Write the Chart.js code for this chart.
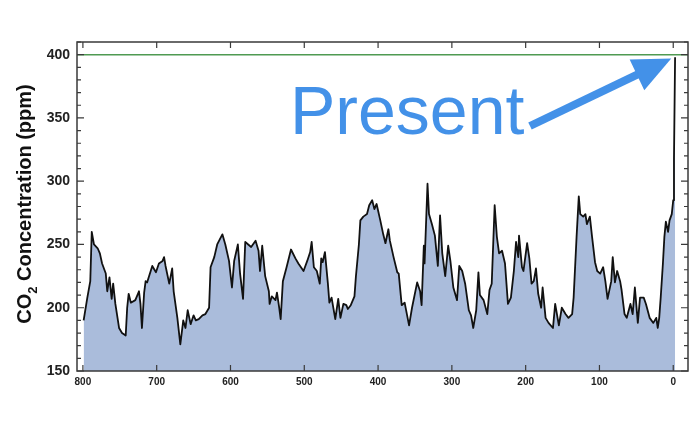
<!DOCTYPE html>
<html>
<head>
<meta charset="utf-8">
<script src="https://cdn.jsdelivr.net/npm/chart.js@4"></script>
<style>
  html, body { margin: 0; padding: 0; background: #fff; }
  #wrap { width: 700px; height: 427px; position: relative; }
</style>
</head>
<body>
<div id="wrap"><canvas id="co2Chart"></canvas></div>
<script>
// ice core CO2, thousands of years before present
const ageKyr = [
  799, 794, 790, 788, 785, 780, 777, 774, 769, 767, 764, 761, 759, 756, 751, 747, 742, 740, 738, 735,
  729, 724, 722, 720, 717, 715, 713, 706, 701, 697, 692, 690, 688, 683, 679, 677, 672, 668, 664, 661,
  658, 654, 650, 647, 643, 638, 634, 629, 627, 622, 618, 611, 607, 602, 598, 595, 590, 587, 583, 580,
  576, 572, 566, 562, 560, 557, 553, 548, 547, 544, 539, 537, 534, 532, 529, 524, 518, 512, 508, 501,
  496, 492, 490, 487, 483, 479, 477, 475, 472, 468, 466, 463, 458, 454, 451, 447, 443, 441, 437, 432,
  430, 426, 424, 420, 415, 412, 408, 405, 402, 397, 393, 390, 386, 384, 379, 374, 372, 368, 364, 358,
  354, 347, 343, 341, 338, 337, 333, 331, 327, 323, 319, 316, 313, 309, 305, 302, 298, 293, 290, 286,
  282, 277, 274, 271, 267, 264, 262, 257, 252, 249, 246, 242, 239, 236, 232, 228, 224, 220, 216, 213,
  210, 209, 205, 203, 198, 195, 192, 189, 186, 183, 179, 177, 173, 169, 163, 160, 155, 151, 146, 142,
  137, 135, 131, 128, 126, 122, 119, 117, 113, 110, 106, 103, 99, 95, 92, 89, 84, 82, 79, 76,
  72, 70, 66, 63, 58, 55, 52, 48, 45, 40, 37, 32, 27, 23, 21, 19, 17, 14, 12, 10,
  7, 5, 2, 0, -1, -2.5
];
const co2Ppm = [
  190, 208, 221, 260, 250, 247, 243, 235, 227, 213, 224, 207, 219, 203, 184, 180, 178, 200, 211, 204,
  206, 213, 203, 184, 212, 221, 220, 233, 228, 235, 237, 240, 233, 219, 231, 213, 192, 171, 190, 184,
  198, 187, 194, 190, 191, 194, 195, 200, 232, 240, 250, 258, 250, 237, 216, 237, 250, 227, 207, 252,
  250, 248, 253, 245, 229, 249, 225, 213, 203, 209, 206, 212, 200, 191, 221, 232, 246, 239, 235, 229,
  237, 244, 252, 232, 229, 219, 239, 236, 244, 219, 204, 208, 191, 207, 192, 203, 202, 199, 202, 209,
  225, 250, 269, 272, 274, 281, 285, 278, 282, 269, 258, 251, 262, 253, 240, 228, 227, 202, 204, 186,
  200, 220, 213, 202, 249, 235, 298, 274, 266, 257, 233, 273, 243, 225, 249, 237, 216, 206, 233, 229,
  219, 198, 194, 184, 198, 228, 210, 206, 195, 214, 219, 281, 256, 243, 245, 235, 203, 208, 229, 252,
  240, 257, 232, 229, 251, 239, 219, 221, 231, 211, 200, 216, 192, 188, 184, 203, 186, 200, 195, 192,
  195, 208, 256, 288, 274, 272, 274, 266, 272, 256, 236, 229, 227, 232, 221, 207, 221, 240, 220, 229,
  221, 214, 195, 192, 203, 195, 216, 188, 208, 208, 203, 192, 188, 192, 184, 192, 208, 235, 256, 268,
  260, 269, 274, 285, 318, 398
];
const xTickValues = [800, 700, 600, 500, 400, 300, 200, 100, 0];
const yTickValues = [150, 200, 250, 300, 350, 400];
const refPpm = 400;
const ageRange = [-20, 808];
const ppmRange = [150, 410];

const fillBlue = '#aabcdb';
const textBlue = '#4391e8';

const framePlugin = {
  id: 'frame',
  afterDraw(chart) {
    const { ctx, chartArea: a, scales: { x, y } } = chart;
    ctx.save();
    // box + inward ticks
    ctx.strokeStyle = '#3a3a3a';
    ctx.lineWidth = 1.5;
    ctx.strokeRect(a.left, a.top, a.right - a.left, a.bottom - a.top);
    ctx.lineWidth = 1.2;
    ctx.beginPath();
    xTickValues.forEach(v => {
      const px = x.getPixelForValue(v);
      ctx.moveTo(px, a.bottom); ctx.lineTo(px, a.bottom - 6);
      ctx.moveTo(px, a.top); ctx.lineTo(px, a.top + 6);
    });
    for (let v = ppmRange[0]; v <= ppmRange[1]; v += 10) {
      const py = y.getPixelForValue(v);
      const len = v % 50 === 0 ? 7 : 4;
      ctx.moveTo(a.left, py); ctx.lineTo(a.left + len, py);
      ctx.moveTo(a.right, py); ctx.lineTo(a.right - len, py);
    }
    ctx.stroke();

    // y title with subscript
    ctx.save();
    ctx.translate(31, 204);
    ctx.rotate(-Math.PI / 2);
    ctx.fillStyle = '#111';
    ctx.textBaseline = 'alphabetic';
    const big = 'bold 20px "Liberation Sans", Arial, sans-serif';
    const small = 'bold 13px "Liberation Sans", Arial, sans-serif';
    ctx.font = big;
    const w1 = ctx.measureText('CO').width;
    const w3 = ctx.measureText(' Concentration (ppm)').width;
    ctx.font = small;
    const w2 = ctx.measureText('2').width;
    let sx = -(w1 + w2 + w3) / 2;
    ctx.font = big; ctx.fillText('CO', sx, 0);
    ctx.font = small; ctx.fillText('2', sx + w1, 6);
    ctx.font = big; ctx.fillText(' Concentration (ppm)', sx + w1 + w2, 0);
    ctx.restore();

    // "Present" callout
    ctx.fillStyle = textBlue;
    ctx.font = '68px "Liberation Sans", Arial, sans-serif';
    ctx.textBaseline = 'alphabetic';
    ctx.fillText('Present', 290, 134);

    const tipX = x.getPixelForValue(2.7), tipY = y.getPixelForValue(397);
    const sX = 530, sY = 126;
    const dx = tipX - sX, dy = tipY - sY, len = Math.hypot(dx, dy);
    const ux = dx / len, uy = dy / len, nx = -uy, ny = ux;
    const headL = 38, headW = 17;
    const bx = tipX - ux * headL, by = tipY - uy * headL;
    ctx.strokeStyle = textBlue;
    ctx.lineWidth = 8;
    ctx.beginPath();
    ctx.moveTo(sX, sY);
    ctx.lineTo(bx + ux * 2, by + uy * 2);
    ctx.stroke();
    ctx.beginPath();
    ctx.moveTo(tipX, tipY);
    ctx.lineTo(bx + nx * headW, by + ny * headW);
    ctx.lineTo(bx - nx * headW, by - ny * headW);
    ctx.closePath();
    ctx.fill();
    ctx.restore();
  }
};

const co2Points = ageKyr.map((a, i) => ({ x: a, y: co2Ppm[i] }));
const refPoints = [{ x: ageRange[1], y: refPpm }, { x: ageRange[0], y: refPpm }];

new Chart(document.getElementById('co2Chart'), {
  type: 'line',
  data: {
    datasets: [
      {
        data: co2Points,
        borderColor: '#111',
        borderWidth: 1.8,
        borderJoinStyle: 'round',
        backgroundColor: fillBlue,
        fill: 'start',
        pointRadius: 0,
        tension: 0
      },
      {
        data: refPoints,
        borderColor: '#4f9a52',
        borderWidth: 1.5,
        pointRadius: 0,
        fill: false
      }
    ]
  },
  options: {
    responsive: true,
    maintainAspectRatio: false,
    animation: false,
    layout: { padding: { top: 42, right: 12, left: 0, bottom: 0 } },
    plugins: { legend: { display: false }, tooltip: { enabled: false } },
    scales: {
      x: {
        type: 'linear',
        reverse: true,
        min: ageRange[0],
        max: ageRange[1],
        afterBuildTicks: s => { s.ticks = xTickValues.map(v => ({ value: v })); },
        afterFit: s => { s.height = 56; },
        grid: { display: false, drawTicks: false },
        border: { display: false },
        ticks: {
          padding: 5,
          color: '#222',
          font: { family: '"Liberation Sans", Arial, sans-serif', size: 10, weight: 'bold' },
          maxRotation: 0
        }
      },
      y: {
        min: ppmRange[0],
        max: ppmRange[1],
        afterBuildTicks: s => { s.ticks = yTickValues.map(v => ({ value: v })); },
        afterFit: s => { s.width = 77; },
        grid: { display: false, drawTicks: false },
        border: { display: false },
        ticks: {
          padding: 7,
          color: '#222',
          font: { family: '"Liberation Sans", Arial, sans-serif', size: 14, weight: 'bold' }
        }
      }
    }
  },
  plugins: [framePlugin]
});
</script>
</body>
</html>
